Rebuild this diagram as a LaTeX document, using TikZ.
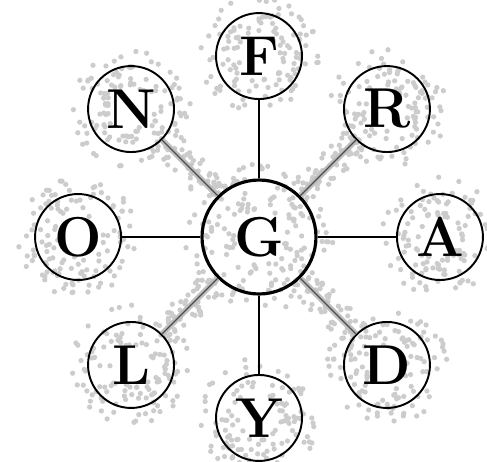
\documentclass[tikz,border=0pt]{standalone}
\usetikzlibrary{calc,backgrounds}

\tikzset{
    letter/.style={font=\bfseries\fontsize{32}{32}\selectfont},
    hub/.style={circle, draw=black, line width=1.8pt, minimum size=2.28cm, inner sep=0pt, letter},
    leaf/.style={circle, draw=black, line width=1.1pt, minimum size=1.72cm, inner sep=0pt, letter},
    spoke/.style={draw=black, line width=0.8pt},
    shadowspoke/.style={draw=gray!50, line width=3.4pt},
    corespoke/.style={draw=black!70, line width=0.7pt},
    speck/.style={fill=gray!40}
}

\begin{document}
\begin{tikzpicture}[x=0.02cm, y=-0.02cm]
    \useasboundingbox (0,0) rectangle (487,461);
    \node[hub] (G) at (259,237) {G};
    \foreach \name/\ang in {F/90, R/45, A/0, D/-45, Y/-90, L/-135, O/180, N/135}
        \node[leaf] (\name) at ($(G)+(\ang:3.62cm)$) {\name};

    % plain spokes
    \foreach \name in {F, A, Y, O}
        \draw[spoke] (G) -- (\name);
    % shaded spokes
    \foreach \name in {R, D, L, N} {
        \draw[shadowspoke] (G) -- (\name);
        \draw[corespoke] (G) -- (\name);
    }

    % speckled halo
    \begin{scope}[on background layer]
        \pgfmathsetseed{42}
        \foreach \name in {F, R, A, D, Y, L, O, N}
            \foreach \i in {1,...,120} {
                \pgfmathsetmacro\sa{rnd*360}
                \pgfmathsetmacro\sr{0.4+0.8*rnd}
                \fill[speck] ($(\name)+(\sa:\sr cm)$) circle (1.5pt);
            }
        \foreach \i in {1,...,150} {
            \pgfmathsetmacro\sa{rnd*360}
            \pgfmathsetmacro\sr{0.5+1.0*rnd}
            \fill[speck] ($(G)+(\sa:\sr cm)$) circle (1.5pt);
        }
        \foreach \ang in {45, -45, -135, 135}
            \foreach \i in {1,...,50} {
                \pgfmathsetmacro\sd{1.2+1.6*rnd}
                \pgfmathsetmacro\so{0.6*rnd-0.3}
                \fill[speck] ($(G)+(\ang:\sd cm)+(\ang+90:\so cm)$) circle (1.5pt);
            }
    \end{scope}
\end{tikzpicture}
\end{document}
